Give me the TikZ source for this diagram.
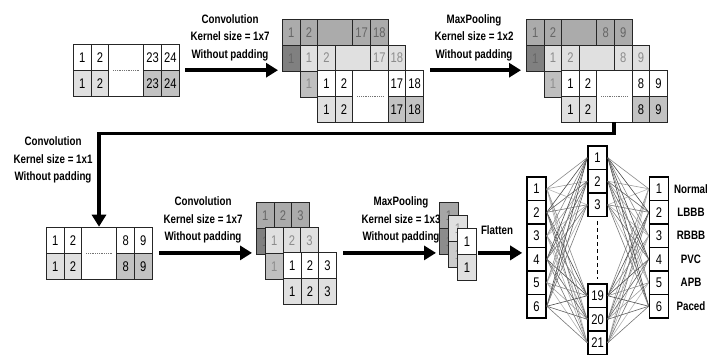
\documentclass[tikz,border=0pt]{standalone}
\usepackage{fontspec}
\setmainfont{Liberation Sans}
\newfontfamily\narrowfont[FakeStretch=0.8]{Liberation Sans}
\usetikzlibrary{arrows.meta,positioning}

\def\cw{17.6}
\newcommand{\cellrow}[5]{%
  \foreach \p/\n/\t in {#5}
    \node[cell, fill=#3, text=#4, minimum width={\n*\cw*1pt}] at (#1+\p*\cw, #2) {\t};}
\newcommand{\fmap}[5]{%
  \node[frame, minimum width=105.6pt] (#1) at (#2,#3) {};
  \cellrow{#2}{#3}{white}{black}{0/1/1,1/1/2,4/1/#4,5/1/#5}
  \cellrow{#2}{#3+26}{black!12}{black}{0/1/1,1/1/2}
  \cellrow{#2}{#3+26}{black!24}{black}{4/1/#4,5/1/#5}
  \node[blank] (#1gap) at (#2+35.2,#3) {};
  \draw[gapline] ([xshift=5pt]#1gap.west) -- ([xshift=-5pt]#1gap.east);}
\newcommand{\backmap}[8]{%
  \node[frame, minimum width={#4*\cw*1pt}] (#1) at (#2,#3) {};
  \cellrow{#2}{#3}{#5}{#6}{#8}
  \cellrow{#2}{#3+26}{#7}{#6}{0/1/1}}

\begin{document}
\begin{tikzpicture}[x=1pt, y=-1pt,
  cell/.style={draw=black!85, line width=1pt, inner sep=0pt, anchor=north west,
    minimum height=26pt, font=\narrowfont\fontsize{14}{14}\selectfont},
  blank/.style={cell, fill=white, minimum width=35.2pt, minimum height=52pt},
  frame/.style={inner sep=0pt, anchor=north west, minimum height=52pt},
  gapline/.style={densely dotted, black!55, line width=0.8pt},
  lab/.style={align=center, font=\narrowfont\bfseries\fontsize{12.2}{17.5}\selectfont},
  bigarrow/.style={line width=3.6pt, -{Triangle[length=12pt,width=14pt]}},
  neuron/.style={draw=black, line width=1.6pt, fill=white, minimum width=19pt,
    minimum height=23.5pt, inner sep=0pt, font=\narrowfont\fontsize{14}{14}\selectfont},
  conn/.style={line width=0.6pt}]
  \useasboundingbox (0,0) rectangle (707,354);

  \fmap{in}{73}{44}{23}{24}

  \backmap{s1a}{282}{19}{6}{black!33}{black!60}{black!50}{0/1/1,1/1/2,2/2/{},4/1/17,5/1/18}
  \backmap{s1b}{299.6}{44.5}{6}{black!12}{black!45}{black!25}{0/1/1,1/1/2,2/2/{},4/1/17,5/1/18}
  \fmap{s1c}{317.2}{70}{17}{18}

  \backmap{s2a}{526}{19}{6}{black!33}{black!60}{black!50}{0/1/1,1/1/2,2/2/{},4/1/8,5/1/9}
  \backmap{s2b}{543.6}{44.5}{6}{black!12}{black!45}{black!25}{0/1/1,1/1/2,2/2/{},4/1/8,5/1/9}
  \fmap{s2c}{561.2}{70}{8}{9}

  \fmap{b3}{46}{226.7}{8}{9}

  \backmap{s3a}{256}{202}{3}{black!33}{black!60}{black!50}{0/1/1,1/1/2,2/1/3}
  \backmap{s3b}{265}{227}{3}{black!12}{black!45}{black!25}{0/1/1,1/1/2,2/1/3}
  \node[frame, minimum width=52.8pt] (s3c) at (283,252) {};
  \cellrow{283}{252}{white}{black}{0/1/1,1/1/2,2/1/3}
  \cellrow{283}{278}{black!12}{black}{0/1/1,1/1/2,2/1/3}

  \def\cw{19}
  \backmap{s4a}{439}{202}{1}{black!35}{black!55}{black!45}{0/1/1}
  \backmap{s4b}{448}{215}{1}{black!12}{black!40}{black!20}{0/1/1}
  \node[frame, minimum width=19pt] (s4c) at (457,228) {};
  \cellrow{457}{228}{white}{black}{0/1/1}
  \cellrow{457}{254}{black!12}{black}{0/1/1}

  \foreach \i in {1,...,6} {
    \node[neuron] (L\i) at (536.5,165.25+23.5*\i) {\i};
    \node[neuron] (R\i) at (659,165.25+23.5*\i) {\i};
  }
  \foreach \j/\y in {1/157.75,2/181.25,3/204.75,19/295.75,20/319.25,21/342.75}
    \node[neuron] (M\j) at (597.5,\y) {\j};
  \foreach \i in {1,...,6}
    \foreach \j in {1,2,3,19,20,21} {
      \pgfmathtruncatemacro\s{30+mod(3*\i+5*\j,6)*8}
      \draw[conn, black!\s] (L\i.east) -- (M\j.west);
      \draw[conn, black!\s] (M\j.east) -- (R\i.west);
    }
  \draw[line width=1.5pt, dash pattern=on 4pt off 3pt] ([yshift=-4pt]M3.south) -- ([yshift=4pt]M19.north);
  \foreach \i/\t in {1/Normal,2/LBBB,3/RBBB,4/PVC,5/APB,6/Paced}
    \node[lab] (c\i) at ([xshift=32pt]R\i.center) {\t};

  \node[lab] (t1) at (230,37.5) {Convolution\\Kernel size = 1x7\\Without padding};
  \node[lab] (t2) at (474,37.5) {MaxPooling\\Kernel size = 1x2\\Without padding};
  \node[lab] (t3) at (53,160) {Convolution\\Kernel size = 1x1\\Without padding};
  \node[lab] (t4) at (203,220) {Convolution\\Kernel size = 1x7\\Without padding};
  \node[lab] (t5) at (401,220) {MaxPooling\\Kernel size = 1x3\\Without padding};
  \node[lab] (t6) at (497,230) {Flatten};

  \draw[bigarrow] ([xshift=6pt]in.east) -- ([xshift=-4pt]s1a.west |- in.east);
  \draw[bigarrow] ([xshift=7pt]s1c.east |- in.east) -- ([xshift=-5pt]s2a.west |- in.east);
  \draw[bigarrow] (s2c.south) -- ++(0,11) -| (b3.north);
  \draw[bigarrow] ([xshift=7pt]b3.east) -- ([xshift=-4pt]s3a.west |- b3.east);
  \draw[bigarrow] ([xshift=7pt]s3c.east |- b3.east) -- ([xshift=-3pt]s4a.west |- b3.east);
  \draw[bigarrow] ([xshift=2pt]s4c.east |- b3.east) -- ([xshift=-4pt]L1.west |- b3.east);
\end{tikzpicture}
\end{document}
